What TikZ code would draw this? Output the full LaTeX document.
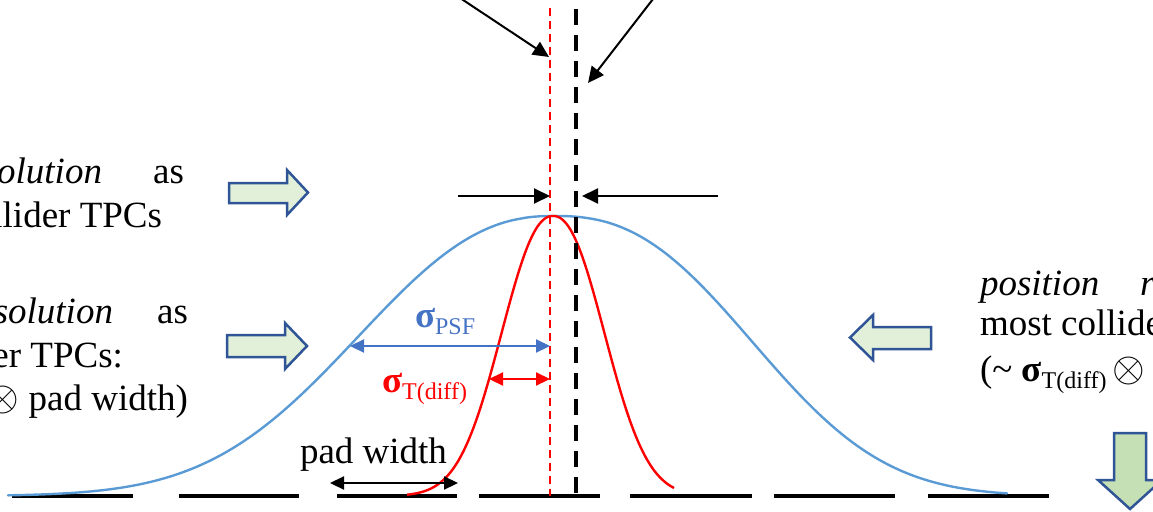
\documentclass[tikz,border=0pt]{standalone}
\usepackage{fix-cm}
\usepackage{fontspec}
\setmainfont{Liberation Serif}
\usetikzlibrary{arrows.meta}
\definecolor{curveblue}{HTML}{5B9BD5}
\definecolor{psfblue}{HTML}{4472C4}
\definecolor{arrowedge}{HTML}{2F5597}
\definecolor{lightgreen}{HTML}{E2F0D9}
\definecolor{midgreen}{HTML}{C5E0B4}
\definecolor{sigred}{HTML}{FF0000}
\tikzset{
  txt/.style={font=\fontsize{37}{44}\selectfont, inner sep=0pt, outer sep=0pt},
  blackarrow/.style={-{Triangle[length=16pt,width=15pt]}, line width=2pt, black},
  dblarrow/.style={{Triangle[length=14pt,width=13pt]}-{Triangle[length=14pt,width=13pt]}, line width=2.2pt},
  blockarrow/.style={draw=arrowedge, line width=2.5pt, line join=miter, fill=lightgreen},
  padseg/.style={line width=4.5pt, black},
  reddash/.style={sigred, line width=2pt, dash pattern=on 8pt off 5pt},
  blackdash/.style={black, line width=3.5pt, dash pattern=on 16pt off 10pt},
  bluecurve/.style={curveblue, line width=2.4pt},
  redcurve/.style={sigred, line width=2.4pt},
}
\newcommand{\subtxt}[1]{\raisebox{-7pt}{\fontsize{24}{24}\selectfont #1}}
\newcommand{\otim}{{\fontsize{42}{42}\selectfont$\otimes$}}
\begin{document}
\begin{tikzpicture}[x=1pt,y=-1pt]
\useasboundingbox (0,0) rectangle (1153,511);
\clip (0,0) rectangle (1153,511);

% pad row
\foreach \a/\b in {12/133,179/299,337/457,479/600,630/752,774/895,928/1049}
  \draw[padseg] (\a,496) -- (\b,496);

% blue PSF curve (left and right halves)
\draw[bluecurve, line cap=round] plot[domain=8:553, samples=140, smooth]
  (\x, {496-280*exp(-pow(abs(\x-553)/250+0.0001,2.3))});
\draw[bluecurve, line cap=round] plot[domain=553:1007, samples=140, smooth]
  (\x, {496-280*exp(-pow(abs(\x-553)/245+0.0001,2.5))});

% red diffusion curve
\draw[redcurve] plot[domain=407:674, samples=140, smooth]
  (\x, {496-280*exp(-pow(abs(\x-553)/68+0.0001,2.2))});

% vertical dashed lines
\coordinate (redtop) at (550,8);
\coordinate (redbot) at (550,496);
\coordinate (blktop) at (576,9);
\coordinate (blkbot) at (576,496);
\draw[reddash] (redtop) -- (redbot);
\draw[blackdash] (blktop) -- (blkbot);

% top pointing arrows
\coordinate (ptA) at (448,-10);
\coordinate (tipA) at (549,57);
\coordinate (ptB) at (660,-10);
\coordinate (tipB) at (588,83);
\draw[blackarrow] (ptA) -- (tipA);
\draw[blackarrow] (ptB) -- (tipB);

% horizontal offset arrows
\coordinate (hL) at (458,196);
\coordinate (hLtip) at (550,196);
\coordinate (hR) at (718,196);
\coordinate (hRtip) at (582,196);
\draw[blackarrow] (hL) -- (hLtip);
\draw[blackarrow] (hR) -- (hRtip);

% sigma PSF
\coordinate (psfL) at (350,346);
\coordinate (psfR) at (550,346);
\draw[dblarrow, psfblue] (psfL) -- (psfR);
\node[txt, anchor=base west, text=psfblue] (psflab) at (415,327) {{\bfseries σ}\subtxt{PSF}};

% sigma T(diff)
\coordinate (difL) at (489,379);
\coordinate (difR) at (550,379);
\draw[dblarrow, sigred] (difL) -- (difR);
\node[txt, anchor=base west, text=sigred] (diflab) at (382,392) {{\bfseries σ}\subtxt{T(diff)}};

% pad width
\coordinate (padL) at (330,483);
\coordinate (padR) at (458,483);
\draw[dblarrow, black] (padL) -- (padR);
\node[txt, anchor=base west] (padlab) at (300,463) {pad width};

% block arrows
\draw[blockarrow] (229,183) -- (287,183) -- (287,170) -- (308,192.5) -- (287,215) -- (287,203) -- (229,203) -- cycle;
\draw[blockarrow] (227,335) -- (285,335) -- (285,323) -- (307,346) -- (285,369) -- (285,357) -- (227,357) -- cycle;
\draw[blockarrow] (931,327) -- (873,327) -- (873,315) -- (850,337.5) -- (873,360) -- (873,349) -- (931,349) -- cycle;
\draw[blockarrow, fill=midgreen] (1114,433) -- (1146,433) -- (1146,480) -- (1162,480) -- (1130,509) -- (1098,480) -- (1114,480) -- cycle;

% left text, block 1
\node[txt, anchor=base east] (t1a) at (102,183) {\itshape olution};
\node[txt, anchor=base east] (t1b) at (184,183) {as};
\node[txt, anchor=base east] (t1c) at (162,227) {llider TPCs};

% left text, block 2
\node[txt, anchor=base east] (t2a) at (113,323) {\itshape solution};
\node[txt, anchor=base east] (t2b) at (188,323) {as};
\node[txt, anchor=base east] (t2c) at (123,367) {er TPCs:};
\node[txt, anchor=base east] (t2d) at (188,410) {\otim\ pad width)};

% right text
\node[txt, anchor=base west] (r1a) at (980,295) {\itshape position};
\node[txt, anchor=base west] (r1b) at (1140,295) {\itshape r};
\node[txt, anchor=base west] (r2) at (980,335) {most collide};
\node[txt, anchor=base west] (r3) at (980,381) {(\textasciitilde\ {\bfseries σ}\subtxt{T(diff)}\,\otim};
\end{tikzpicture}
\end{document}
